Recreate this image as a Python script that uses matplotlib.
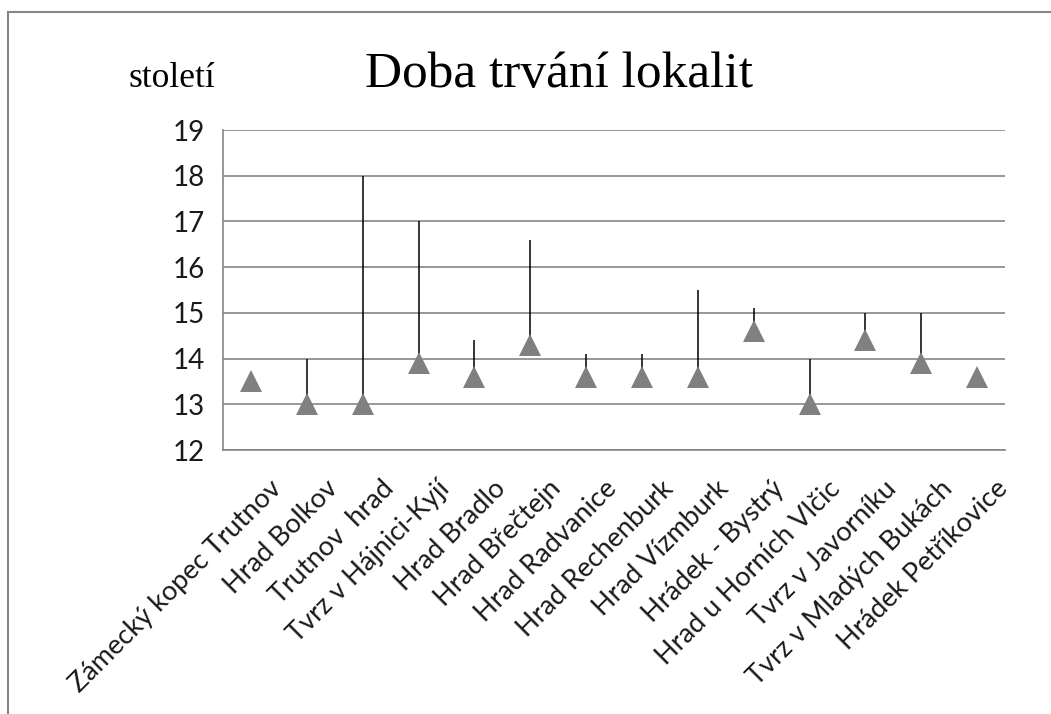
import numpy as np
import matplotlib.pyplot as plt
import matplotlib.transforms as mtransforms
from matplotlib.lines import Line2D

# data (century of start / end)
lokality = ['Zámecký kopec Trutnov', 'Hrad Bolkov', 'Trutnov  hrad', 'Tvrz v Hájnici-Kyjí',
            'Hrad Bradlo', 'Hrad Břečtejn', 'Hrad Radvanice', 'Hrad Rechenburk',
            'Hrad Vízmburk', 'Hrádek - Bystrý', 'Hrad u Horních Vlčic', 'Tvrz v Javorníku',
            'Tvrz v Mladých Bukách', 'Hrádek Petříkovice']
zacatek = [13.5, 13.0, 13.0, 13.9, 13.6, 14.3, 13.6, 13.6, 13.6, 14.6, 13.0, 14.4, 13.9, 13.6]
konec = [13.5, 14.0, 18.0, 17.0, 14.4, 16.6, 14.1, 14.1, 15.5, 15.1, 14.0, 15.0, 15.0, 13.6]
y_ticks = [12, 13, 14, 15, 16, 17, 18, 19]

W, H = 1051, 714
fig = plt.figure(figsize=(W / 100, H / 100), dpi=100)
ax = fig.add_axes([223 / W, 1 - 450 / H, (1005 - 223) / W, (450 - 130) / H])

x = np.arange(len(lokality))
grey = '#868686'

ax.vlines(x, zacatek, konec, color='black', linewidth=1.1, zorder=3)
ax.plot(x, zacatek, linestyle='none', marker='^', markersize=16,
        color='#808080', markeredgewidth=0, zorder=4)

ax.set_xlim(-0.5, len(lokality) - 0.5)
ax.set_ylim(12, 19)
ax.set_yticks(y_ticks)
ax.set_yticklabels([str(t) for t in y_ticks], fontfamily='Lato', fontsize=20, color='#1a1a1a')
ax.yaxis.grid(True, color=grey, linewidth=1.2)
ax.set_axisbelow(True)
ax.tick_params(axis='both', length=0)
ax.tick_params(axis='y', pad=13)

for s in ['top', 'right']:
    ax.spines[s].set_visible(False)
for s in ['left', 'bottom']:
    ax.spines[s].set_color(grey)
    ax.spines[s].set_linewidth(1.2)

ax.set_xticks(x)
ax.set_xticklabels(lokality, rotation=45, ha='right', va='center',
                   rotation_mode='anchor', fontfamily='Lato', fontsize=19.5, color='#1a1a1a')
offset = mtransforms.ScaledTranslation(27 / 100, -30 / 100, fig.dpi_scale_trans)
for lab in ax.get_xticklabels():
    lab.set_transform(lab.get_transform() + offset)

fig.text(559 / W, 1 - 87 / H, 'Doba trvání lokalit', ha='center', va='baseline',
         fontfamily='Liberation Serif', fontsize=37, color='black')
fig.text(128 / W, 1 - 87 / H, 'století', ha='left', va='baseline',
         fontfamily='Liberation Serif', fontsize=25.5, color='black')

# chart frame (top and left edge visible)
fig.add_artist(Line2D([8 / W, 1], [1 - 12 / H, 1 - 12 / H], color=grey, linewidth=1.5))
fig.add_artist(Line2D([8 / W, 8 / W], [0, 1 - 12 / H], color=grey, linewidth=1.5))

fig.savefig('out.png', dpi=100)
